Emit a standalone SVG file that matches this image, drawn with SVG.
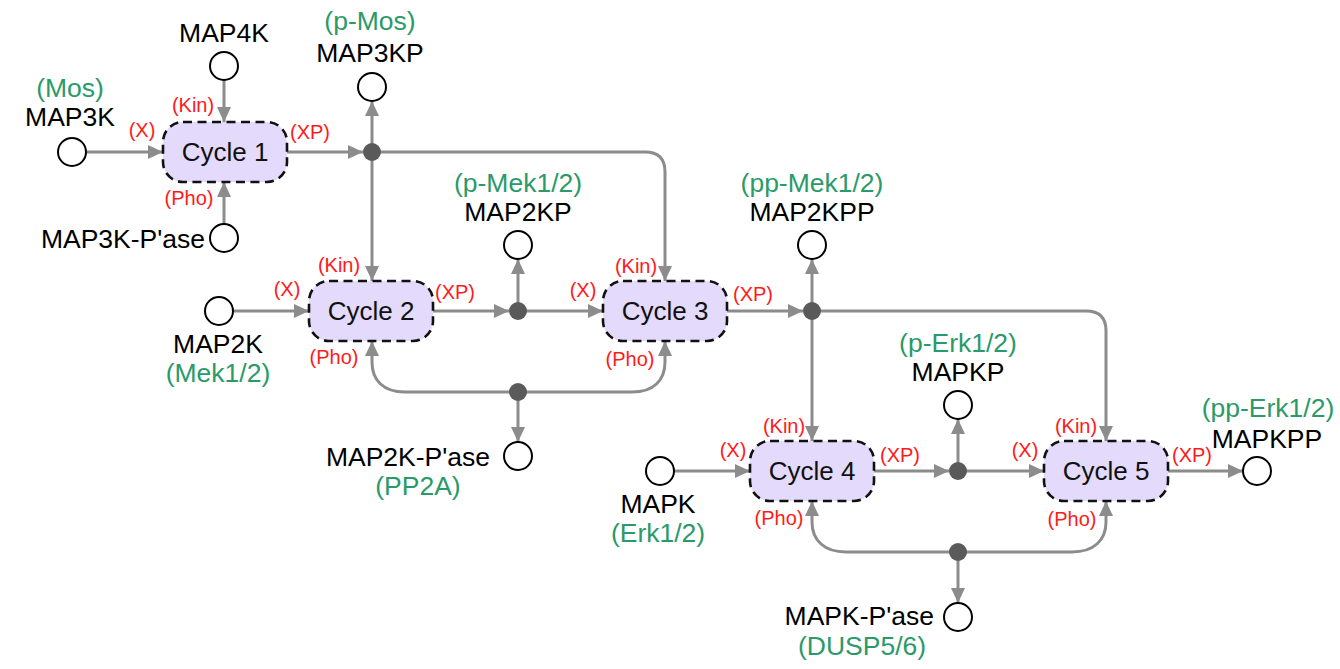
<svg xmlns="http://www.w3.org/2000/svg" width="1340" height="669" viewBox="0 0 1340 669">
<defs>
<marker id="ah" markerUnits="userSpaceOnUse" markerWidth="16" markerHeight="14" refX="15" refY="7" orient="auto">
<path d="M0,0 L15,7 L0,14 z" fill="#8c8c8c"/>
</marker>
</defs>
<style>
.c{fill:none;stroke:#8c8c8c;stroke-width:3;}
.a{marker-end:url(#ah);}
.dot{fill:#5a5a5a;}
.sp{fill:#fff;stroke:#000;stroke-width:2;}
.box{fill:#e3dafc;stroke:#111;stroke-width:2.6;stroke-dasharray:9 5.5;}
text{font-family:"Liberation Sans",Arial,sans-serif;}
.k{font-size:26.5px;fill:#000;text-anchor:middle;}
.kr{font-size:26.5px;fill:#000;text-anchor:end;}
.g{font-size:26.5px;fill:#2a9a68;text-anchor:middle;}
.r{font-size:20px;fill:#ff1a1a;text-anchor:middle;}
.cy{font-size:26px;fill:#111;text-anchor:middle;}
</style>
<rect width="1340" height="669" fill="#fff"/>
<g id="connectors">
<path class="c a" d="M86,152 H163"/>
<path class="c a" d="M224,80 V122"/>
<path class="c a" d="M224,224 V182"/>
<path class="c a" d="M287,152 H363"/>
<path class="c a" d="M372,152 V101"/>
<path class="c a" d="M372,152 V281"/>
<path class="c a" d="M372,152 H645 Q665,152 665,172 V281"/>
<path class="c a" d="M233,311 H309"/>
<path class="c a" d="M433,311 H509"/>
<path class="c a" d="M518,311 V259"/>
<path class="c a" d="M518,311 H603"/>
<path class="c a" d="M518,392 H405 C383,392 372,380 372,362 V341"/>
<path class="c a" d="M518,392 H632 C654,392 665,380 665,362 V341"/>
<path class="c a" d="M518,392 V442"/>
<path class="c a" d="M727,311 H803"/>
<path class="c a" d="M812,311 V259"/>
<path class="c a" d="M812,311 V441"/>
<path class="c a" d="M812,311 H1086 Q1106,311 1106,331 V441"/>
<path class="c a" d="M674,471 H750"/>
<path class="c a" d="M874,471 H949"/>
<path class="c a" d="M958,471 V419"/>
<path class="c a" d="M958,471 H1044"/>
<path class="c a" d="M1168,471 H1243"/>
<path class="c a" d="M958,552 H846 C824,552 812,540 812,522 V501"/>
<path class="c a" d="M958,552 H1072 C1094,552 1106,540 1106,522 V501"/>
<path class="c a" d="M958,552 V603"/>
<circle class="dot" cx="372" cy="152" r="9"/>
<circle class="dot" cx="518" cy="311" r="9"/>
<circle class="dot" cx="812" cy="311" r="9"/>
<circle class="dot" cx="958" cy="471" r="9"/>
<circle class="dot" cx="518" cy="392" r="9"/>
<circle class="dot" cx="958" cy="552" r="9"/>
</g>
<g id="cycle1">
<rect class="box" x="163" y="122" width="124" height="60" rx="20"/>
<text class="cy" x="225" y="161">Cycle 1</text>
<text class="r" x="142" y="137">(X)</text>
<text class="r" x="193" y="112">(Kin)</text>
<text class="r" x="310" y="139">(XP)</text>
<text class="r" x="189" y="205">(Pho)</text>
</g>
<g id="cycle2">
<rect class="box" x="309" y="281" width="124" height="60" rx="20"/>
<text class="cy" x="371" y="320">Cycle 2</text>
<text class="r" x="287" y="296">(X)</text>
<text class="r" x="339" y="272">(Kin)</text>
<text class="r" x="455" y="299">(XP)</text>
<text class="r" x="334" y="364">(Pho)</text>
</g>
<g id="cycle3">
<rect class="box" x="603" y="281" width="124" height="60" rx="20"/>
<text class="cy" x="665" y="320">Cycle 3</text>
<text class="r" x="583" y="297">(X)</text>
<text class="r" x="636" y="273">(Kin)</text>
<text class="r" x="753" y="301">(XP)</text>
<text class="r" x="630" y="366">(Pho)</text>
</g>
<g id="cycle4">
<rect class="box" x="750" y="441" width="124" height="60" rx="20"/>
<text class="cy" x="812" y="480">Cycle 4</text>
<text class="r" x="733" y="457">(X)</text>
<text class="r" x="784" y="433">(Kin)</text>
<text class="r" x="900" y="462">(XP)</text>
<text class="r" x="779" y="525">(Pho)</text>
</g>
<g id="cycle5">
<rect class="box" x="1044" y="441" width="124" height="60" rx="20"/>
<text class="cy" x="1106" y="480">Cycle 5</text>
<text class="r" x="1025" y="457">(X)</text>
<text class="r" x="1076" y="433">(Kin)</text>
<text class="r" x="1192" y="462">(XP)</text>
<text class="r" x="1072" y="526">(Pho)</text>
</g>
<g id="MAP4K">
<circle class="sp" cx="224" cy="66" r="14"/>
<text class="k" x="224" y="42">MAP4K</text>
</g>
<g id="MAP3K">
<circle class="sp" cx="72" cy="152" r="14"/>
<text class="g" x="70" y="97">(Mos)</text>
<text class="k" x="70" y="126">MAP3K</text>
</g>
<g id="MAP3K-Pase">
<circle class="sp" cx="224" cy="238" r="14"/>
<text class="kr" x="205" y="248">MAP3K-P'ase</text>
</g>
<g id="MAP3KP">
<circle class="sp" cx="372" cy="87" r="14"/>
<text class="g" x="370" y="30">(p-Mos)</text>
<text class="k" x="370" y="62">MAP3KP</text>
</g>
<g id="MAP2K">
<circle class="sp" cx="219" cy="311" r="14"/>
<text class="k" x="218" y="353">MAP2K</text>
<text class="g" x="218" y="382">(Mek1/2)</text>
</g>
<g id="MAP2KP">
<circle class="sp" cx="518" cy="245" r="14"/>
<text class="g" x="518" y="192">(p-Mek1/2)</text>
<text class="k" x="518" y="221">MAP2KP</text>
</g>
<g id="MAP2KPP">
<circle class="sp" cx="812" cy="245" r="14"/>
<text class="g" x="812" y="192">(pp-Mek1/2)</text>
<text class="k" x="812" y="221">MAP2KPP</text>
</g>
<g id="MAP2K-Pase">
<circle class="sp" cx="518" cy="456" r="14"/>
<text class="kr" x="490" y="466">MAP2K-P'ase</text>
<text class="g" x="418" y="495">(PP2A)</text>
</g>
<g id="MAPK">
<circle class="sp" cx="660" cy="471" r="14"/>
<text class="k" x="658" y="513">MAPK</text>
<text class="g" x="658" y="542">(Erk1/2)</text>
</g>
<g id="MAPKP">
<circle class="sp" cx="958" cy="405" r="14"/>
<text class="g" x="958" y="352">(p-Erk1/2)</text>
<text class="k" x="958" y="381">MAPKP</text>
</g>
<g id="MAPKPP">
<circle class="sp" cx="1257" cy="471" r="14"/>
<text class="g" x="1268" y="417">(pp-Erk1/2)</text>
<text class="k" x="1267" y="448">MAPKPP</text>
</g>
<g id="MAPK-Pase">
<circle class="sp" cx="958" cy="617" r="14"/>
<text class="kr" x="934" y="625">MAPK-P'ase</text>
<text class="g" x="862" y="655">(DUSP5/6)</text>
</g>
</svg>
